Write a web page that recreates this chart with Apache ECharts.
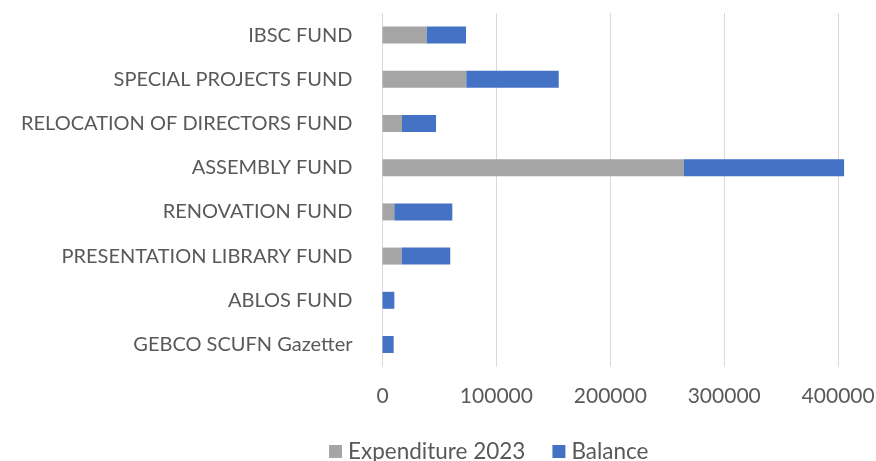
<!DOCTYPE html>
<html>
<head>
<meta charset="utf-8">
<script src="https://cdn.jsdelivr.net/npm/echarts@6/dist/echarts.min.js"></script>
<style>html,body{margin:0;padding:0;background:#fff;overflow:hidden;}#c{width:910px;height:461px;}</style>
</head>
<body>
<div id="c"></div>
<script>
var categories = ["IBSC FUND", "SPECIAL PROJECTS FUND", "RELOCATION OF DIRECTORS FUND", "ASSEMBLY FUND", "RENOVATION FUND", "PRESENTATION LIBRARY FUND", "ABLOS FUND", "GEBCO SCUFN Gazetter"];
var expenditure2023 = [38800, 73600, 17100, 264400, 10400, 16900, 0, 0];
var balance = [34500, 81100, 29900, 140800, 50900, 42600, 10400, 9800];
var seriesNames = ["Expenditure 2023", "Balance"];

var chart = echarts.init(document.getElementById('c'), null, {renderer: 'canvas'});
var font = 'Lato';
chart.setOption({
  animation: false,
  backgroundColor: '#ffffff',
  grid: {left: 382.5, top: 13, height: 353.6, width: 512.6, containLabel: false},
  legend: {
    data: seriesNames,
    left: 329, top: 440, padding: 0,
    icon: 'rect', itemWidth: 13, itemHeight: 13, itemGap: 27,
    textStyle: {fontFamily: font, fontSize: 22.5, color: '#595959', padding: [0, 0, 0, 1]}
  },
  xAxis: {
    type: 'value', min: 0, max: 450000, interval: 100000,
    axisLine: {show: false}, axisTick: {show: false},
    splitLine: {show: true, lineStyle: {color: '#d9d9d9', width: 1}},
    axisLabel: {fontFamily: font, fontSize: 21, color: '#595959', margin: 19, showMaxLabel: false,
      formatter: function (v) { return String(v); }}
  },
  yAxis: {
    type: 'category', data: categories, inverse: true,
    axisLine: {show: false}, axisTick: {show: false},
    axisLabel: {fontFamily: font, fontSize: 20, color: '#595959', margin: 30}
  },
  series: [
    {name: seriesNames[0], type: 'bar', stack: 'a', data: expenditure2023, barWidth: 17, itemStyle: {color: '#a5a5a5'}},
    {name: seriesNames[1], type: 'bar', stack: 'a', data: balance, barWidth: 17, itemStyle: {color: '#4472c4'}}
  ]
});
</script>
</body>
</html>
